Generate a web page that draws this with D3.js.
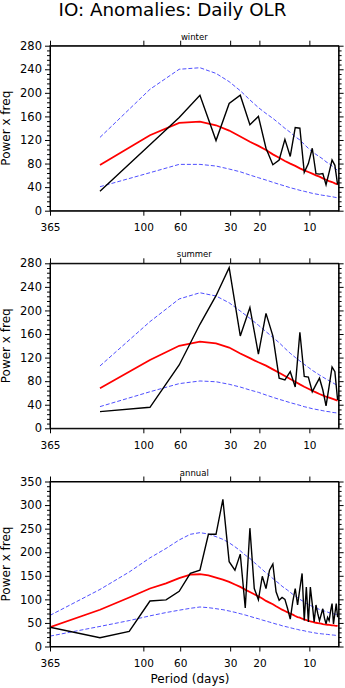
<!DOCTYPE html>
<html><head><meta charset="utf-8">
<script src="https://cdn.jsdelivr.net/npm/d3@7"></script>
<style>
body{margin:0;background:#fff}
svg{display:block}
text{font-family:"DejaVu Sans",sans-serif;fill:#000}
</style>
</head><body>
<svg id="c" width="345" height="688"></svg>
<script>
// ---------- data ----------
const titleText = "IO: Anomalies: Daily OLR";
const panelNames = ["winter", "summer", "annual"];
const xTickPeriods = [365, 100, 60, 30, 20, 10];        // x tick labels (period, days)
const seasonBaseDays = 182.5;                           // frequencies k/182.5 for seasonal spectra
const annualBaseDays = 365;                             // frequencies k/365 for annual spectrum
const yTicksSeason = [0, 40, 80, 120, 160, 200, 240, 280];
const yTicksAnnual = [0, 50, 100, 150, 200, 250, 300, 350];

// winter (k = 1..27)
const winterSpec  = [33,112,158,196,119,182,196,146,160,106,78,86,121,92,141,140,65,80,106,63,62,63,44,65,86,77,44];
const winterRed   = [77.5,128,149,151,145,136,126,117,110,103,95.6,90,84.3,79.8,76,71.9,68.5,65.6,62.8,60,57.7,54.9,52.6,50.3,48.6,46.3,44.6];
const winterUpper = [124.4,206,240,242.6,233,219,203.6,188,175,165,156.7,148,139.8,133,125.6,120,112.6,105.8,100,95.6,91.6,87.7,83,79.8,76,72,68.5];
const winterLower = [40.7,64.5,78.6,78.6,75.8,70.7,66,60.5,56,52,48.2,44.8,41.9,39,36.8,34.6,32.9,31.2,29.5,28.3,27.2,26.1,25.5,24.4,23.8,22.7,22];

// summer (k = 1..27)
const summerSpec  = [28.3,35.6,107.5,176.5,225,272.6,156.7,205,126,195,157,85,82,96,70,163,88,87,62,74,85,65,38,71,104,96,48];
const summerRed   = [67.9,116,140,147,144,137,127,119,112,106.3,100,94.4,88.7,83.6,79.1,74.6,70.6,67.2,63.8,61,58.2,55.9,53.6,52,50.3,48.6,46.9];
const summerUpper = [105.8,181,219.5,230,224.5,213,199,186.6,175,164,154.4,145.3,135.7,127.3,120.4,114.2,108.5,103.4,98.4,94.4,90.4,87,83.6,80.8,78,75.1,72.9];
const summerLower = [36.8,62,75.8,80.3,79,74.7,70,65,61,56.5,52.6,49.2,46.3,43.5,41.2,39,36.7,35,33.3,32.1,31,29.9,28.7,28.2,27,26.5,25.9];

// annual (k = 1..54)
const annualSpec  = [41,18.5,32,96.5,99,117,155,162,238,238,312,180,162,196,82,251,123,99,
                     149,123,162,175,116,98,104,100,80,58,95,123,88,123,155,55,126,52,126,90,
                     52,88,70,55,68,80,60,48,62,55,75,91,48,70,91,62];
const annualRed   = [41,78,104,123,134,145,152.6,153.3,151,146.3,141.9,137,131.4,126.4,120.7,115.7,110.7,106.5,
                     101.8,96.7,93.1,89.6,85.2,81.7,78.1,75.3,72.5,69.6,67.5,64.6,62.5,61.1,58.9,57.5,56,54.6,
                     53.2,52.5,51.1,50.4,49.7,49,48.3,47.5,46.8,46.4,46.1,45.7,45.3,44.9,44.6,44.2,43.9,43.6];
const annualUpper = [66,121,158,188,208,226,238,241.5,238.6,233,227.3,220,211.6,203,193.9,186.8,178.2,170.5,
                     163.4,156.2,150.5,144.2,138.5,133.5,127.8,123.5,119.3,115,110.7,107.2,103.6,100,97.2,94.4,91.5,89.4,
                     87.2,85.1,83,81.6,80.1,78.7,77.3,75.9,75.2,73.7,73,71.6,70.9,70.2,69.5,68.8,68.1,67.3];
const annualLower = [22,42.6,55,65,72,77,81,83.8,82.4,80.2,78.1,75.3,72.5,69.6,66.8,64,61.1,58.9,
                     56.1,54,51.8,49.7,47.6,46.2,44,42.6,41.2,39.8,38.4,37,36.2,34.8,34.1,33.4,32,31.3,
                     30.5,29.8,29.1,28.4,27.7,27.4,27,26.6,26.3,25.9,25.6,25.2,24.9,24.5,24.2,23.9,23.6,23.4];

// ---------- layout ----------
const W = 345, H = 688;
const L = 50, R = 338.6, PH = 165;
const tops = [45.7, 263.3, 481.5];
const freqMin = 1/365, freqMax = 0.15;

const svg = d3.select("#c");
svg.append("text").attr("x", 172.5).attr("y", 15.5).attr("text-anchor","middle")
   .style("font-size","18.3px").text(titleText);

const panels = [
  {name: panelNames[0], base: seasonBaseDays, spec: winterSpec, red: winterRed, up: winterUpper, lo: winterLower, yTicks: yTicksSeason, minor: 8},
  {name: panelNames[1], base: seasonBaseDays, spec: summerSpec, red: summerRed, up: summerUpper, lo: summerLower, yTicks: yTicksSeason, minor: 8},
  {name: panelNames[2], base: annualBaseDays, spec: annualSpec, red: annualRed, up: annualUpper, lo: annualLower, yTicks: yTicksAnnual, minor: 10}
];

const x = d3.scaleLog().domain([freqMin, freqMax]).range([L, R]);
const xTickFreqs = xTickPeriods.map(p => 1/p);

panels.forEach((p, i) => {
  const top = tops[i], bot = top + PH;
  const yMax = p.yTicks[p.yTicks.length-1];
  const y = d3.scaleLinear().domain([0, yMax]).range([bot, top]);
  const g = svg.append("g");
  const clipId = "clip" + i;
  svg.append("clipPath").attr("id", clipId).append("rect")
     .attr("x", L).attr("y", top).attr("width", R-L).attr("height", PH);

  const pts = arr => arr.map((v, k) => ({f: (k+1)/p.base, v}));
  const line = d3.line().x(d => x(d.f)).y(d => y(d.v));
  const plot = g.append("g").attr("clip-path", `url(#${clipId})`);
  plot.append("path").attr("d", line(pts(p.up))).attr("fill","none")
      .attr("stroke","#3b3bff").attr("stroke-width",0.9).attr("stroke-dasharray","4,2");
  plot.append("path").attr("d", line(pts(p.lo))).attr("fill","none")
      .attr("stroke","#3b3bff").attr("stroke-width",0.9).attr("stroke-dasharray","4,2");
  plot.append("path").attr("d", line(pts(p.red))).attr("fill","none")
      .attr("stroke","#ff0000").attr("stroke-width",1.8);
  plot.append("path").attr("d", line(pts(p.spec))).attr("fill","none")
      .attr("stroke","#000").attr("stroke-width",1.4).attr("stroke-linejoin","miter");

  const minorTicks = d3.range(0, yMax + 0.001, p.minor).filter(v => !p.yTicks.includes(v));

  // left axis
  const gl = g.append("g").attr("transform", `translate(${L},0)`);
  gl.call(d3.axisLeft(y).tickValues(p.yTicks).tickSize(5).tickSizeOuter(0).tickPadding(4));
  gl.selectAll("text").style("font-size","11.5px").attr("x", -8);
  g.append("g").attr("transform", `translate(${L},0)`)
   .call(d3.axisLeft(y).tickValues(minorTicks).tickSize(3).tickSizeOuter(0).tickFormat(""))
   .call(s => s.select(".domain").remove());
  // right axis
  g.append("g").attr("transform", `translate(${R},0)`)
   .call(d3.axisRight(y).tickValues(p.yTicks).tickSize(5).tickSizeOuter(0).tickFormat(""));
  g.append("g").attr("transform", `translate(${R},0)`)
   .call(d3.axisRight(y).tickValues(minorTicks).tickSize(3).tickSizeOuter(0).tickFormat(""))
   .call(s => s.select(".domain").remove());
  // bottom axis
  const gb = g.append("g").attr("transform", `translate(0,${bot})`);
  gb.call(d3.axisBottom(x).tickValues(xTickFreqs).tickSize(5).tickSizeOuter(0)
        .tickFormat((d, j) => xTickPeriods[j]));
  gb.selectAll("text").style("font-size","10.5px").attr("y", 20.5).attr("dy", null);
  // top axis
  g.append("g").attr("transform", `translate(0,${top})`)
   .call(d3.axisTop(x).tickValues(xTickFreqs).tickSize(5).tickSizeOuter(0).tickFormat(""));

  g.selectAll(".domain").attr("stroke","#000").attr("stroke-width",1);
  g.selectAll(".tick line").attr("stroke","#000").attr("stroke-width",1);
  g.selectAll("g.tick text").attr("font-family", null);
  g.selectAll("g").attr("font-family", null);

  // border
  g.append("rect").attr("x", L).attr("y", top).attr("width", R-L).attr("height", PH)
   .attr("fill","none").attr("stroke","#000").attr("stroke-width",1);

  // panel subtitle
  g.append("text").attr("x", (L+R)/2).attr("y", top - 6).attr("text-anchor","middle")
   .style("font-size","8.5px").text(p.name);
  // y title
  g.append("text").attr("transform", `translate(9.5,${top + PH/2}) rotate(-90)`)
   .attr("text-anchor","middle").style("font-size","12px").text("Power x freq");
});

svg.append("text").attr("x", 190).attr("y", 683).attr("text-anchor","middle")
   .style("font-size","12px").text("Period (days)");
</script>
</body></html>
